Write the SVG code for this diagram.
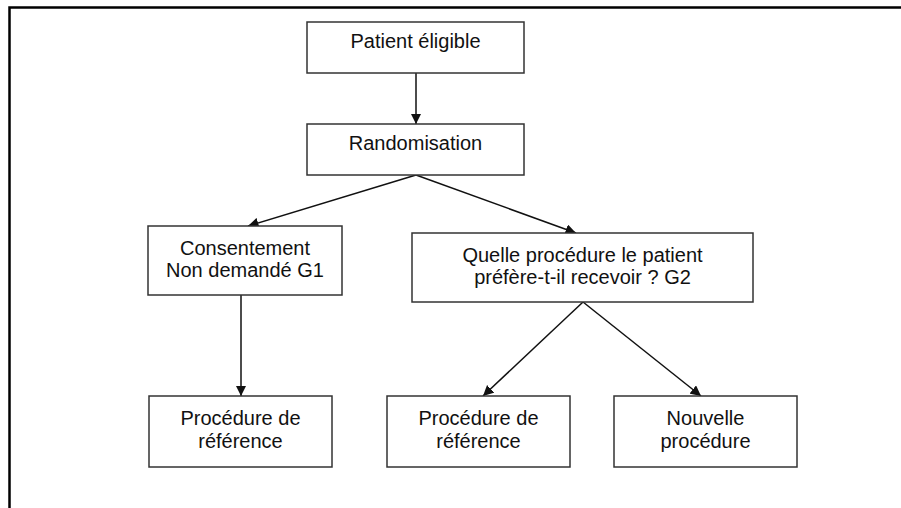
<svg xmlns="http://www.w3.org/2000/svg" width="901" height="508" viewBox="0 0 901 508">
<style>
.box{fill:#fff;stroke:#333;stroke-width:1.5}
.t{font-family:"Liberation Sans",Arial,Helvetica,sans-serif;font-size:20px;fill:#111;text-anchor:middle}
.c{stroke:#111;stroke-width:1.5;fill:none;marker-end:url(#ah)}
</style>
<defs>
<marker id="ah" viewBox="0 0 10 10" refX="10" refY="5" markerWidth="7" markerHeight="7" markerUnits="strokeWidth" orient="auto">
<path d="M0,0 L10,5 L0,10 z" fill="#111"/>
</marker>
</defs>
<rect width="901" height="508" fill="#fff"/>
<path d="M9.5,508 L9.5,7.5 L901,7.5" fill="none" stroke="#000" stroke-width="2.5"/>
<g id="connectors">
<line class="c" x1="416" y1="73" x2="416" y2="124"/>
<line class="c" x1="416" y1="175" x2="248" y2="226"/>
<line class="c" x1="416" y1="175" x2="576" y2="233"/>
<line class="c" x1="241" y1="295" x2="241" y2="396"/>
<line class="c" x1="583" y1="302" x2="483" y2="396"/>
<line class="c" x1="583" y1="302" x2="701" y2="396"/>
</g>
<g id="patient">
<rect class="box" x="307" y="22" width="217" height="51"/>
<text class="t" x="415.5" y="48">Patient éligible</text>
</g>
<g id="randomisation">
<rect class="box" x="307" y="124" width="217" height="51"/>
<text class="t" x="415.5" y="150">Randomisation</text>
</g>
<g id="g1">
<rect class="box" x="148" y="226" width="194" height="69"/>
<text class="t" x="245" y="255">Consentement</text>
<text class="t" x="245" y="277">Non demandé G1</text>
</g>
<g id="g2">
<rect class="box" x="412" y="233" width="341" height="69"/>
<text class="t" x="582.5" y="262">Quelle procédure le patient</text>
<text class="t" x="582.5" y="284">préfère-t-il recevoir ? G2</text>
</g>
<g id="ref1">
<rect class="box" x="149" y="396" width="183" height="71"/>
<text class="t" x="240.5" y="425">Procédure de</text>
<text class="t" x="240.5" y="448">référence</text>
</g>
<g id="ref2">
<rect class="box" x="387" y="396" width="183" height="71"/>
<text class="t" x="478.5" y="425">Procédure de</text>
<text class="t" x="478.5" y="448">référence</text>
</g>
<g id="nouvelle">
<rect class="box" x="614" y="396" width="183" height="71"/>
<text class="t" x="705.5" y="425">Nouvelle</text>
<text class="t" x="705.5" y="448">procédure</text>
</g>
</svg>
